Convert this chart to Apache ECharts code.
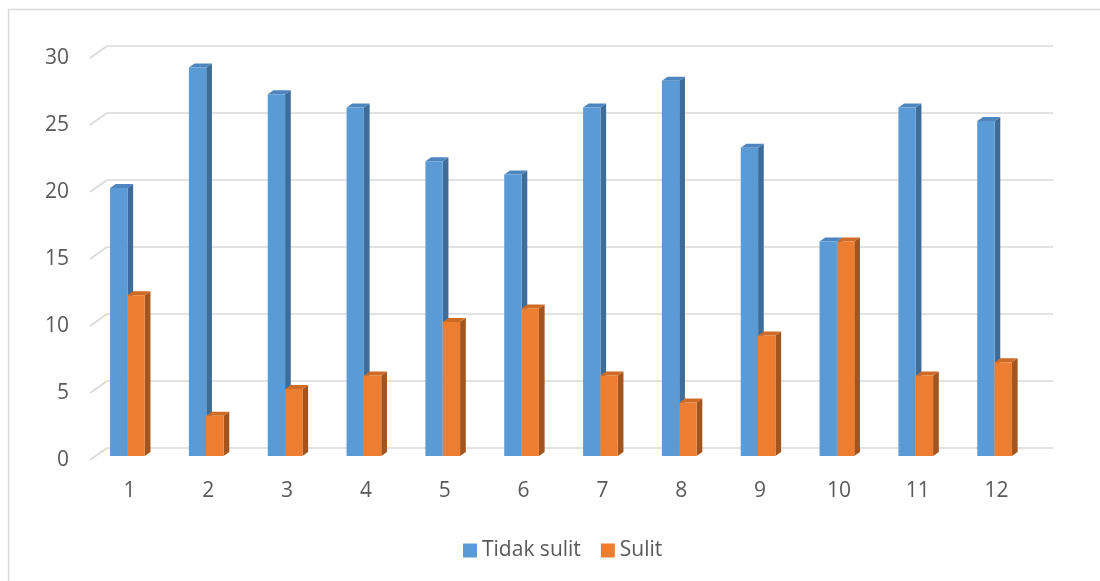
<!DOCTYPE html>
<html>
<head>
<meta charset="utf-8">
<script src="https://cdn.jsdelivr.net/npm/echarts@6/dist/echarts.min.js"></script>
<style>html,body{margin:0;padding:0;background:#fff}#c{width:1100px;height:581px}</style>
</head>
<body>
<div id="c"></div>
<script>
const categories = ['1','2','3','4','5','6','7','8','9','10','11','12'];
const tidakSulit = [20, 29, 27, 26, 22, 21, 26, 28, 23, 16, 26, 25];
const sulit = [12, 3, 5, 6, 10, 11, 6, 4, 9, 16, 6, 7];
const yTicks = [0, 5, 10, 15, 20, 25, 30];

const FONT = '"Open Sans", "Liberation Sans", sans-serif';
const DEPTH_X = 17, DEPTH_Y = -12;   // full floor depth
const BAR_DX = 5.7, BAR_DY = -4;     // bar depth
const PLANE_DY = -4;                 // bar front plane offset from front plane
const PAIR_SHIFT = -2;

const faces = [
  {front: '#5b9bd5', side: '#3e6d9a', top: '#4e85bf'},
  {front: '#ed7d31', side: '#a3551d', top: '#cf6b25'}
];

function barRender(sIdx) {
  return function (params, api) {
    const idx = api.value(0), v = api.value(1);
    const base = api.coord([idx, 0]);
    const topP = api.coord([idx, v]);
    const band = api.size([1, 0])[0];
    const w = band * 0.22;
    const cx = base[0] + PAIR_SHIFT;
    const x0 = sIdx === 0 ? cx - w : cx;
    const x1 = x0 + w;
    const yb = base[1] + PLANE_DY;
    const yt = topP[1] + PLANE_DY;
    const f = faces[sIdx];
    return {
      type: 'group',
      children: [
        {type: 'polygon', shape: {points: [[x1, yt], [x1 + BAR_DX, yt + BAR_DY], [x1 + BAR_DX, yb + BAR_DY], [x1, yb]]}, style: {fill: f.side}},
        {type: 'polygon', shape: {points: [[x0, yt], [x0 + BAR_DX, yt + BAR_DY], [x1 + BAR_DX, yt + BAR_DY], [x1, yt]]}, style: {fill: f.top}},
        {type: 'rect', shape: {x: x0, y: yt, width: w, height: yb - yt}, style: {fill: f.front}}
      ]
    };
  };
}

function gridRender(params, api) {
  const v = api.value(1);
  const y = api.coord([0, v])[1];
  const cs = params.coordSys;
  const style = {stroke: '#d9d9d9', lineWidth: 1.6, fill: null};
  return {
    type: 'group',
    children: [
      {type: 'line', shape: {x1: cs.x, y1: y, x2: cs.x + DEPTH_X, y2: y + DEPTH_Y}, style: style},
      {type: 'line', shape: {x1: cs.x + DEPTH_X, y1: y + DEPTH_Y, x2: cs.x + cs.width + DEPTH_X, y2: y + DEPTH_Y}, style: style}
    ]
  };
}

const chart = echarts.init(document.getElementById('c'));
chart.setOption({
  animation: false,
  backgroundColor: '#ffffff',
  graphic: [{
    type: 'rect', shape: {x: 8.5, y: 9.5, width: 1200, height: 700},
    style: {fill: null, stroke: '#d9d9d9', lineWidth: 1.5}, silent: true, z: -10
  }],
  legend: {
    data: ['Tidak sulit', 'Sulit'],
    left: 458, top: 535,
    icon: 'rect', itemWidth: 14, itemHeight: 14, itemGap: 20,
    textStyle: {color: '#595959', fontSize: 21, fontFamily: FONT}
  },
  grid: {left: 90, right: 64, top: 58, bottom: 121},
  xAxis: {
    type: 'category', data: categories, boundaryGap: true,
    axisLine: {show: false}, axisTick: {show: false}, splitLine: {show: false},
    axisLabel: {color: '#595959', fontSize: 21, fontFamily: FONT, margin: 21}
  },
  yAxis: {
    type: 'value', min: 0, max: 30, interval: 5,
    axisLine: {show: false}, axisTick: {show: false}, splitLine: {show: false},
    axisLabel: {color: '#595959', fontSize: 21, fontFamily: FONT, margin: 21, padding: [4, 0, 0, 0]}
  },
  series: [
    {
      type: 'custom', name: 'gridlines', silent: true, z: 1, clip: false,
      renderItem: gridRender,
      data: yTicks.map(t => [0, t]),
      encode: {x: 0, y: 1}
    },
    {
      type: 'custom', name: 'Tidak sulit', z: 2, clip: false,
      itemStyle: {color: faces[0].front},
      renderItem: barRender(0),
      data: tidakSulit.map((v, i) => [i, v]),
      encode: {x: 0, y: 1}
    },
    {
      type: 'custom', name: 'Sulit', z: 3, clip: false,
      itemStyle: {color: faces[1].front},
      renderItem: barRender(1),
      data: sulit.map((v, i) => [i, v]),
      encode: {x: 0, y: 1}
    }
  ]
});
</script>
</body>
</html>
